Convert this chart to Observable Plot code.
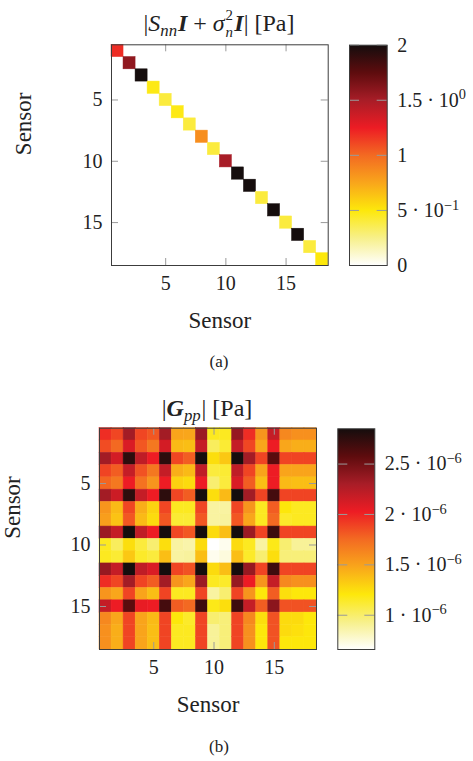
<!DOCTYPE html>
<html><head><meta charset="utf-8">
<script src="https://cdn.jsdelivr.net/npm/d3@7"></script>
<script src="https://cdn.jsdelivr.net/npm/@observablehq/plot@0.6"></script>
<style>
body{margin:0;background:#fff;}
#root{position:relative;width:473px;height:761px;overflow:hidden;font-family:"Liberation Serif",serif;color:#222;}
#root svg{position:absolute;overflow:visible;}
.lab{position:absolute;white-space:nowrap;transform:translate(-50%,-50%);line-height:1;}
.title{font-size:24px;}
.cap{font-size:17px;}
.sb{font-size:0.7em;vertical-align:-0.3em;line-height:0;margin-right:0.05em;}
.ss{display:inline-block;font-size:0.62em;line-height:1.15;vertical-align:-0.4em;margin:0 0.1em 0 0.05em;}
.ss span{display:block;}
</style></head><body><div id="root"></div>
<script>
// ---------- data ----------
const sensors = [1,2,3,4,5,6,7,8,9,10,11,12,13,14,15,16,17,18];
const axisTicks = [5,10,15];

// (a) diagonal of |S_nn I + sigma_n^2 I| [Pa]
const diagA = [1.2,1.58,2.0,0.48,0.4,0.48,0.4,0.85,0.4,1.5,2.0,2.0,0.4,2.0,0.4,2.0,0.4,0.5];
const domainA = [0, 2];
const cbTicksA = [0, 0.5, 1, 1.5, 2];
const cbLabelsA = ["0", "5 · 10^−1", "1", "1.5 · 10^0", "2"];

// (b) |G_pp| [Pa], values in units of 1e-6
const gppRow01 = [1.97,1.88,2.32,1.88,1.82,2.32,1.49,1.48,2.35,1.16,1.16,2.37,1.97,1.56,2.19,1.62,1.58,1.58];
const gppRow02 = [1.86,1.76,2.11,1.82,1.69,2.13,1.40,1.38,2.19,1.03,1.12,2.19,1.88,1.48,2.03,1.48,1.45,1.45];
const gppRow03 = [2.32,2.13,2.76,2.21,2.03,2.76,1.88,1.80,2.85,1.25,1.34,2.85,2.32,1.89,2.59,1.89,1.89,1.89];
const gppRow04 = [1.89,1.80,2.19,1.84,1.69,2.19,1.45,1.40,2.21,1.10,1.12,2.21,1.89,1.49,2.03,1.49,1.49,1.49];
const gppRow05 = [1.77,1.69,2.03,1.72,1.56,2.03,1.30,1.26,2.03,0.99,1.10,2.11,1.80,1.38,2.03,1.40,1.38,1.38];
const gppRow06 = [2.32,2.16,2.76,2.19,2.03,2.76,1.88,1.80,2.85,1.25,1.40,2.85,2.32,1.89,2.67,1.89,1.89,1.89];
const gppRow07 = [1.56,1.40,1.88,1.45,1.30,1.88,1.16,1.16,1.88,0.88,0.88,1.88,1.56,1.16,1.80,1.21,1.16,1.16];
const gppRow08 = [1.52,1.36,1.82,1.40,1.26,1.82,1.12,1.12,1.82,0.88,0.89,1.82,1.48,1.16,1.76,1.14,1.16,1.16];
const gppRow09 = [2.35,2.19,2.85,2.21,2.03,2.85,1.88,1.82,2.85,1.26,1.38,2.85,2.35,1.89,2.70,1.89,1.89,1.89];
const gppRow10 = [1.16,1.03,1.25,1.10,0.99,1.25,0.88,0.86,1.26,0.66,0.70,1.26,1.16,0.88,1.18,0.99,0.90,0.90];
const gppRow11 = [1.16,1.12,1.34,1.14,1.10,1.38,0.88,0.89,1.38,0.70,0.74,1.38,1.14,0.99,1.25,0.97,0.97,0.97];
const gppRow12 = [2.37,2.19,2.85,2.21,2.11,2.85,1.89,1.84,2.85,1.26,1.38,2.85,2.37,1.89,2.70,1.89,1.89,1.89];
const gppRow13 = [1.97,1.88,2.32,1.89,1.80,2.32,1.56,1.48,2.35,1.16,1.14,2.37,2.03,1.56,2.19,1.62,1.58,1.58];
const gppRow14 = [1.56,1.48,1.89,1.49,1.38,1.89,1.16,1.16,1.89,0.88,0.99,1.89,1.56,1.21,1.80,1.25,1.21,1.21];
const gppRow15 = [2.19,2.03,2.59,2.05,2.03,2.67,1.80,1.76,2.70,1.18,1.25,2.70,2.19,1.80,2.41,1.84,1.84,1.84];
const gppRow16 = [1.62,1.48,1.89,1.49,1.40,1.89,1.21,1.14,1.89,0.99,0.97,1.89,1.62,1.25,1.84,1.26,1.26,1.21];
const gppRow17 = [1.58,1.45,1.89,1.49,1.38,1.89,1.16,1.16,1.89,0.90,0.97,1.89,1.58,1.21,1.84,1.26,1.24,1.21];
const gppRow18 = [1.58,1.45,1.89,1.49,1.38,1.89,1.16,1.16,1.89,0.90,0.97,1.89,1.58,1.21,1.84,1.21,1.21,1.21];
const gppRows = [gppRow01,gppRow02,gppRow03,gppRow04,gppRow05,gppRow06,gppRow07,gppRow08,gppRow09,
                 gppRow10,gppRow11,gppRow12,gppRow13,gppRow14,gppRow15,gppRow16,gppRow17,gppRow18];
const domainB = [0.66, 2.85];
const cbTicksB = [1, 1.5, 2, 2.5];
const cbLabelsB = ["1 · 10^−6", "1.5 · 10^−6", "2 · 10^−6", "2.5 · 10^−6"];

// ---------- style ----------
const FONT = '"Liberation Serif", serif';
const TICK = "#9a9a9a";
const FRAME = "#3c3c3c";
const cmapColors = ["#ffffff","#f7f08a","#fde80b","#f9a61b","#f36a22","#ed1c24","#a81d27","#5e0c0e","#150d0d"];
const cmap = d3.piecewise(d3.interpolateRgb, cmapColors);

const root = document.getElementById("root");

function place(el, left, top) { el.style.left = left + "px"; el.style.top = top + "px"; root.appendChild(el); }

function heatmap(cells, domain, m, W, H, xLabDy, yLabDx) {
  const fw = W - m.left - m.right, fh = H - m.top - m.bottom;
  return Plot.plot({
    width: W, height: H,
    marginLeft: m.left, marginRight: m.right, marginTop: m.top, marginBottom: m.bottom,
    style: {fontFamily: FONT, fontSize: "20px", color: "#222", background: "transparent"},
    x: {type: "linear", domain: [0.5, 18.5], axis: null},
    y: {type: "linear", domain: [0.5, 18.5], reverse: true, axis: null},
    color: {type: "linear", domain, interpolate: cmap},
    marks: [
      Plot.rect(cells, {x1: d => d.col - 0.5, x2: d => d.col + 0.5, y1: d => d.row - 0.5, y2: d => d.row + 0.5,
                        fill: "value", stroke: "value", strokeWidth: 0.5}),
      Plot.tickX(axisTicks, {x: d => d, insetBottom: fh - 7, stroke: TICK}),
      Plot.tickX(axisTicks, {x: d => d, insetTop: fh - 7, stroke: TICK}),
      Plot.tickY(axisTicks, {y: d => d, insetRight: fw - 7, stroke: TICK}),
      Plot.tickY(axisTicks, {y: d => d, insetLeft: fw - 7, stroke: TICK}),
      Plot.frame({stroke: FRAME}),
      Plot.axisX(axisTicks, {anchor: "bottom", tickSize: 0, tickPadding: 10, label: null, fontSize: 20}),
      Plot.axisY(axisTicks, {anchor: "left", tickSize: 0, tickPadding: 9, label: null, fontSize: 20}),
      Plot.text(["Sensor"], {text: d => d, frameAnchor: "bottom", dy: xLabDy, fontSize: 23}),
      Plot.text(["Sensor"], {text: d => d, frameAnchor: "left", dx: yLabDx, rotate: -90, fontSize: 23})
    ]
  });
}

function colorbar(domain, ticks, labels, m, W, H, gid) {
  const fw = W - m.left - m.right;
  const svg = Plot.plot({
    width: W, height: H,
    marginLeft: m.left, marginRight: m.right, marginTop: m.top, marginBottom: m.bottom,
    style: {fontFamily: FONT, fontSize: "20px", color: "#222", background: "transparent"},
    x: {domain: [0, 1], axis: null},
    y: {domain, axis: null},
    marks: [
      Plot.frame({fill: `url(#${gid})`}),
      Plot.tickY(ticks, {y: d => d, insetRight: fw - 10, stroke: TICK}),
      Plot.tickY(ticks, {y: d => d, insetLeft: fw - 10, stroke: TICK}),
      Plot.frame({stroke: FRAME}),
      Plot.axisY(ticks, {anchor: "right", tickSize: 0, tickPadding: 10, label: null, fontSize: 20,
                         tickFormat: d => labels[ticks.indexOf(d)]})
    ]
  });
  const grad = d3.select(svg).insert("defs", ":first-child").append("linearGradient")
    .attr("id", gid).attr("x1", 0).attr("y1", 1).attr("x2", 0).attr("y2", 0);
  cmapColors.forEach((c, i) => grad.append("stop").attr("offset", i / (cmapColors.length - 1)).attr("stop-color", c));
  // typeset exponents as raised, smaller text
  d3.select(svg).selectAll("text").filter(function() { return this.textContent.includes("^"); })
    .each(function() {
      const [base, exp] = this.textContent.split("^");
      this.textContent = base;
      d3.select(this).append("tspan").attr("dy", "-0.5em").attr("font-size", "0.72em").text(exp);
    });
  return svg;
}

function label(html, cls, cx, cy) {
  const d = document.createElement("div");
  d.className = "lab " + cls; d.innerHTML = html;
  place(d, cx, cy);
}

// ---------- (a) ----------
const cellsA = sensors.map((s, i) => ({row: s, col: s, value: diagA[i]}));
place(heatmap(cellsA, domainA, {left: 111, right: 12.3, top: 44.3, bottom: 115}, 340, 380, 62, -88), 0, 0);
place(colorbar(domainA, cbTicksA, cbLabelsA, {left: 19, right: 86.3, top: 44.7, bottom: 115}, 143, 380, "gA"), 330, 0);
label('|<i>S</i><span class="sb"><i>nn</i></span><b><i>I</i></b> + <i>σ</i><span class="ss"><span>2</span><span><i>n</i></span></span><b><i>I</i></b>| [Pa]', "title", 219, 24);
label("(a)", "cap", 219, 361);

// ---------- (b) ----------
const cellsB = gppRows.flatMap((r, i) => r.map((v, j) => ({row: sensors[i], col: sensors[j], value: v})));
place(heatmap(cellsB, domainB, {left: 99, right: 24, top: 47.7, bottom: 112}, 340, 381, 62, -87), 0, 380);
place(colorbar(domainB, cbTicksB, cbLabelsB, {left: 17.3, right: 98.7, top: 48.3, bottom: 112}, 153, 381, "gB"), 320, 380);
label('|<b><i>G</i></b><span class="sb"><i>pp</i></span>| [Pa]', "title", 207, 408);
label("(b)", "cap", 219, 746);
</script>
</body></html>
